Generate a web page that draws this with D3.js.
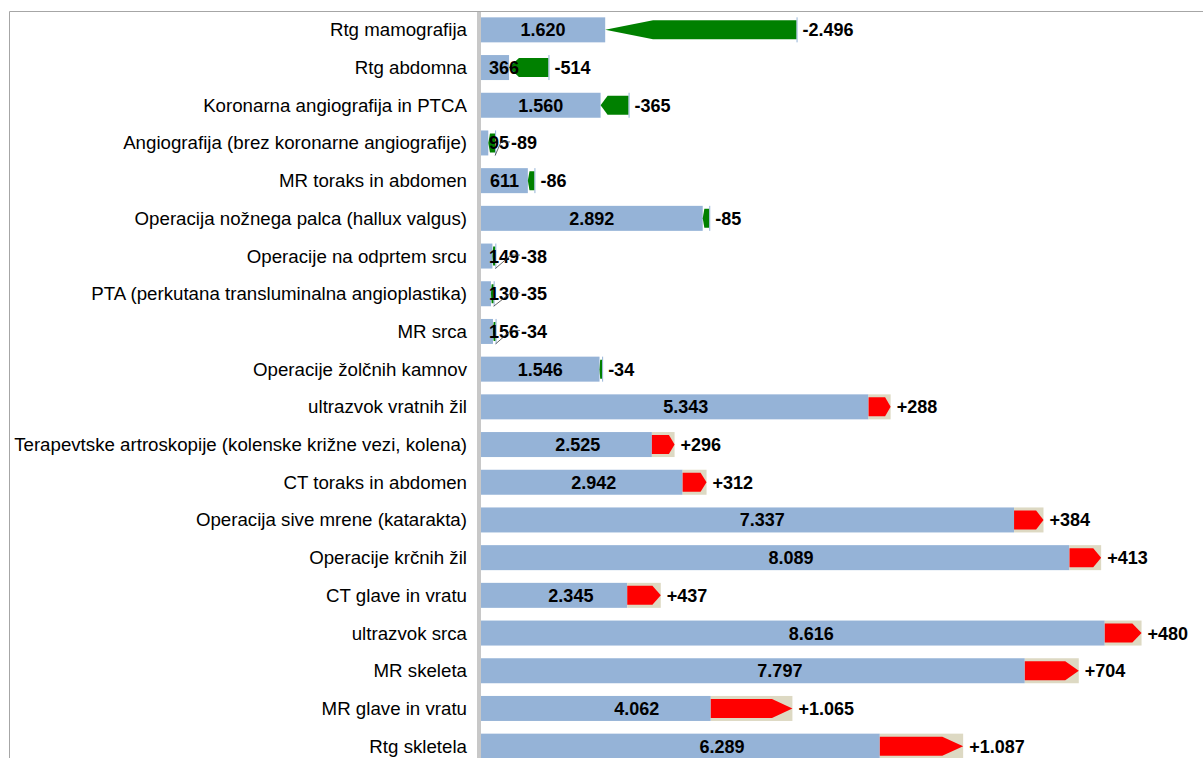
<!DOCTYPE html>
<html>
<head>
<meta charset="utf-8">
<script src="https://cdn.jsdelivr.net/npm/d3@7"></script>
<style>
  body { margin: 0; background: #fff; }
  svg { display: block; font-family: Arial, "Liberation Sans", sans-serif; }
</style>
</head>
<body>
<div id="chart"></div>
<script>
// current value and change against previous period
var categories = [
  "Rtg mamografija",
  "Rtg abdomna",
  "Koronarna angiografija in PTCA",
  "Angiografija (brez koronarne angiografije)",
  "MR toraks in abdomen",
  "Operacija nožnega palca (hallux valgus)",
  "Operacije na odprtem srcu",
  "PTA (perkutana transluminalna angioplastika)",
  "MR srca",
  "Operacije žolčnih kamnov",
  "ultrazvok vratnih žil",
  "Terapevtske artroskopije (kolenske križne vezi, kolena)",
  "CT toraks in abdomen",
  "Operacija sive mrene (katarakta)",
  "Operacije krčnih žil",
  "CT glave in vratu",
  "ultrazvok srca",
  "MR skeleta",
  "MR glave in vratu",
  "Rtg skletela"
];
var values = [1620, 366, 1560, 95, 611, 2892, 149, 130, 156, 1546,
              5343, 2525, 2942, 7337, 8089, 2345, 8616, 7797, 4062, 6289];
var changes = [-2496, -514, -365, -89, -86, -85, -38, -35, -34, -34,
               288, 296, 312, 384, 413, 437, 480, 704, 1065, 1087];

var svgWidth = 1203;
var svgHeight = 758;

var locale = d3.formatLocale({decimal: ",", thousands: ".", grouping: [3], currency: ["", ""], minus: "-"});
var fmt = locale.format(",d");
var fmtSigned = locale.format("+,d");

var rows = categories.map(function(c, i) {
  var v = values[i], d = changes[i];
  return {
    name: c,
    value: v,
    change: d,
    base: d < 0 ? v : v - d,      // blue part
    top: d < 0 ? v - d : v        // end of arrow
  };
});

var svg = d3.select("#chart").append("svg")
  .attr("width", svgWidth)
  .attr("height", svgHeight);

var x = d3.scaleLinear().domain([0, 9000]).range([481, 1171]);
var y = d3.scaleBand()
  .domain(categories)
  .range([11, 11 + 37.7 * categories.length])
  .paddingInner(0.337)
  .paddingOuter(0.1685);

var bh = y.bandwidth();
var inset = 3;

// frame
svg.append("path")
  .attr("d", "M9.5," + svgHeight + "V11.5H" + svgWidth)
  .attr("fill", "none")
  .attr("stroke", "#a6a6a6")
  .attr("stroke-width", 1);

// category axis line
svg.append("rect")
  .attr("x", x(0) - 4)
  .attr("y", 12)
  .attr("width", 4)
  .attr("height", svgHeight - 12)
  .attr("fill", "#c8c8c8");

// category labels
svg.append("g").selectAll("text")
  .data(rows)
  .enter()
  .append("text")
  .attr("x", 467)
  .attr("y", d => y(d.name) + bh / 2)
  .attr("dy", "0.35em")
  .attr("text-anchor", "end")
  .style("font-size", "18.7px")
  .attr("fill", "#000")
  .text(d => d.name);

var g = svg.append("g");

// blue bars
g.selectAll("rect.base")
  .data(rows)
  .enter()
  .append("rect")
  .attr("class", "base")
  .attr("x", x(0))
  .attr("y", d => y(d.name))
  .attr("width", d => x(d.base) - x(0))
  .attr("height", bh)
  .attr("fill", "#95b3d7");

// beige background for increases
g.selectAll("rect.bg")
  .data(rows.filter(d => d.change > 0))
  .enter()
  .append("rect")
  .attr("class", "bg")
  .attr("x", d => x(d.base))
  .attr("y", d => y(d.name))
  .attr("width", d => x(d.top) - x(d.base))
  .attr("height", bh)
  .attr("fill", "#ddd9c3");

// arrows
function arrowPath(d) {
  var y0 = y(d.name) + inset, y1 = y(d.name) + bh - inset, ym = y(d.name) + bh / 2;
  var a = x(d.base), b = x(d.top);
  var tip = (b - a) * 0.25;
  if (d.change > 0) {
    return "M" + a + "," + y0 + "H" + (b - tip) + "L" + b + "," + ym +
      "L" + (b - tip) + "," + y1 + "H" + a + "Z";
  }
  return "M" + b + "," + y0 + "H" + (a + tip) + "L" + a + "," + ym +
    "L" + (a + tip) + "," + y1 + "H" + b + "Z";
}

g.selectAll("path.arrow")
  .data(rows)
  .enter()
  .append("path")
  .attr("class", "arrow")
  .attr("d", arrowPath)
  .attr("fill", d => d.change > 0 ? "#ff0000" : "#008000");

// thin marker at old value for decreases
g.selectAll("line.old")
  .data(rows.filter(d => d.change < 0))
  .enter()
  .append("line")
  .attr("class", "old")
  .attr("x1", d => x(d.top) + 0.5)
  .attr("x2", d => x(d.top) + 0.5)
  .attr("y1", d => y(d.name))
  .attr("y2", d => y(d.name) + bh)
  .attr("stroke", "#95b3d7")
  .attr("stroke-width", 1);

// value labels
var valueLabels = g.selectAll("text.value")
  .data(rows)
  .enter()
  .append("text")
  .attr("class", "value")
  .attr("y", d => y(d.name) + bh / 2)
  .attr("dy", "0.36em")
  .style("font-size", "18px")
  .style("font-weight", "bold")
  .attr("fill", "#000")
  .text(d => fmt(d.value));

valueLabels.each(function(d) {
  var w = this.getComputedTextLength();
  var left = Math.max(x(d.value / 2) - w / 2, x(0) + 8);
  d3.select(this).attr("x", left);
  d.valueRight = left + w;
});

// change labels
rows.forEach(function(d) {
  var natural = x(d.top) + 6;
  d.changeX = Math.max(natural, d.valueRight + 2);
  d.displaced = d.changeX > natural + 4 && d.change < 0 && d.top < 400;
});

// leader lines for moved labels
g.selectAll("path.leader")
  .data(rows.filter(d => d.displaced))
  .enter()
  .append("path")
  .attr("class", "leader")
  .attr("d", function(d) {
    var yc = y(d.name) + bh / 2 - 1;
    return "M" + x(d.top) + "," + (y(d.name) + bh) +
      "L" + (d.changeX - 10) + "," + yc + "H" + (d.changeX - 1);
  })
  .attr("fill", "none")
  .attr("stroke", "#404040")
  .attr("stroke-width", 0.8);

g.selectAll("text.change")
  .data(rows)
  .enter()
  .append("text")
  .attr("class", "change")
  .attr("x", d => d.changeX)
  .attr("y", d => y(d.name) + bh / 2)
  .attr("dy", "0.36em")
  .style("font-size", "18px")
  .style("font-weight", "bold")
  .attr("fill", "#000")
  .text(d => fmtSigned(d.change));
</script>
</body>
</html>
